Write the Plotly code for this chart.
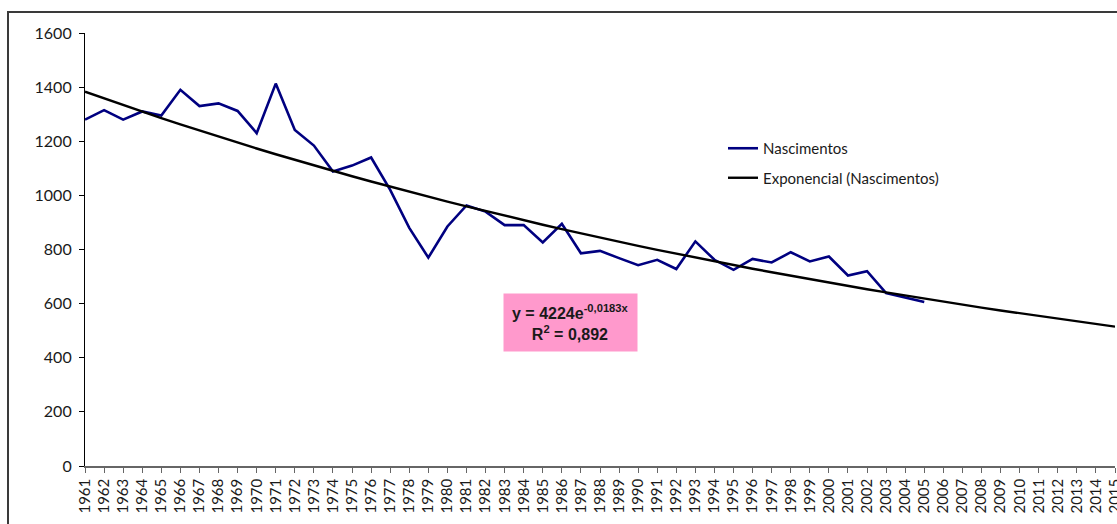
import numpy as np
import plotly.graph_objects as go

# Annual births, 1961-2005
years = list(range(1961, 2006))
nascimentos = [
    1280, 1315, 1280, 1310, 1295, 1390, 1330, 1340, 1312, 1230,
    1413, 1242, 1184, 1088, 1110, 1140, 1020, 880, 770, 885,
    963, 940, 890, 890, 826, 895, 786, 795, 768, 742,
    762, 728, 830, 762, 725, 765, 752, 790, 756, 774,
    704, 720, 639, 622, 606,
]

# Exponential trendline y = A * e^(b*x), x = year - 1900, extended to 2015
trend_a = 4224
trend_b = -0.0183
r_squared = "0,892"
trend_years = list(range(1961, 2016))
trend_values = [trend_a * np.exp(trend_b * (y - 1900)) for y in trend_years]

tick_years = list(range(1961, 2016))
tick_labels = [str(y) for y in tick_years]

W, H = 1117, 524
ML, MR, MT, MB = 85, 2, 33, 58
plot_w = W - ML - MR
plot_h = H - MT - MB


def px_to_paper(px, py):
    return (px - ML) / plot_w, (H - MB - py) / plot_h


label_font = dict(family="Lato, sans-serif", size=15, color="#1a1a1a")

fig = go.Figure()
fig.add_trace(go.Scatter(
    x=years, y=nascimentos, mode="lines", name="Nascimentos",
    line=dict(color="#000080", width=2.6), legendgroup="a",
))
fig.add_trace(go.Scatter(
    x=trend_years, y=trend_values, mode="lines",
    name="Exponencial (Nascimentos)",
    line=dict(color="#000000", width=2.4), legendgroup="b",
))

lx, ly = px_to_paper(723, 132)
ax_x, ax_y = px_to_paper(570, 322)
fx0, fy0 = px_to_paper(8, 560)
fx1, fy1 = px_to_paper(1140, 12)

fig.update_layout(
    width=W, height=H,
    margin=dict(l=ML, r=MR, t=MT, b=MB, autoexpand=False),
    paper_bgcolor="white", plot_bgcolor="white",
    showlegend=True,
    legend=dict(
        x=lx, y=ly, xanchor="left", yanchor="top",
        font=label_font, bgcolor="rgba(0,0,0,0)",
        traceorder="grouped", tracegroupgap=7,
    ),
    xaxis=dict(
        range=[1961, 2015], tickmode="array",
        tickvals=tick_years, ticktext=tick_labels, tickangle=-90,
        ticklabeloverflow="allow", automargin=False,
        showgrid=False, zeroline=False,
        showline=True, linecolor="#666666", linewidth=1.5,
        ticks="outside", ticklen=5, tickcolor="#666666",
        tickfont=dict(family="Lato, sans-serif", size=15, color="#1a1a1a"),
    ),
    yaxis=dict(
        range=[0, 1600], tickmode="array",
        tickvals=list(range(0, 1601, 200)),
        automargin=False,
        showgrid=False, zeroline=False,
        showline=True, linecolor="#000000", linewidth=1.2,
        ticks="outside", ticklen=5, tickcolor="#000000",
        ticklabelstandoff=4,
        tickfont=dict(family="Lato, sans-serif", size=16, color="#1a1a1a"),
    ),
    annotations=[dict(
        x=ax_x, y=ax_y, xref="paper", yref="paper",
        xanchor="center", yanchor="middle", showarrow=False,
        text=(f"<b>y = {trend_a}e<sup>{str(trend_b).replace('.', ',')}x</sup></b>"
              f"<br><b>R<sup>2</sup> = {r_squared}</b>"),
        align="center", bgcolor="#FF99CC", borderpad=8,
        font=dict(family="Liberation Sans, Arial, sans-serif", size=16, color="#1a1a1a"),
    )],
    shapes=[dict(
        type="rect", xref="paper", yref="paper",
        x0=fx0, y0=fy0, x1=fx1, y1=fy1,
        line=dict(color="#3a3a3a", width=2), layer="below",
    )],
)

fig.write_html("out.html")
